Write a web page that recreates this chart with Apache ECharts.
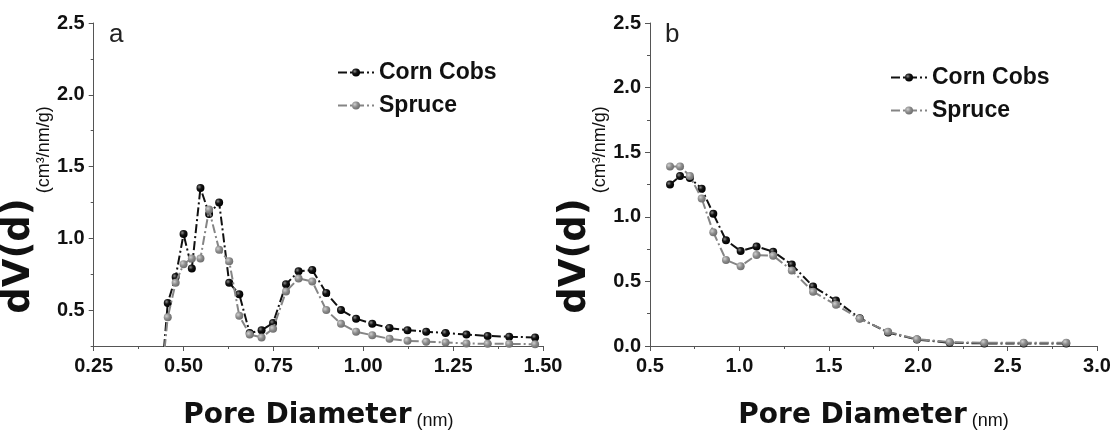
<!DOCTYPE html>
<html>
<head>
<meta charset="utf-8">
<script src="https://cdn.jsdelivr.net/npm/echarts@6/dist/echarts.min.js"></script>
<style>
html,body{margin:0;padding:0;background:#fff;}
#c{width:1117px;height:435px;}
</style>
</head>
<body>
<div id="c"></div>
<script>
// ---- Panel a data (pore diameter in nm, dV(d) in cm3/nm/g) ----
const xA      = [0.438, 0.456, 0.478, 0.500, 0.523, 0.547, 0.571, 0.599, 0.627, 0.655, 0.684, 0.717, 0.749, 0.785, 0.820, 0.858, 0.897, 0.938, 0.980, 1.025, 1.073, 1.123, 1.175, 1.229, 1.287, 1.346, 1.406, 1.478];
const cornA   = [0.00, 0.55, 0.73, 1.03, 0.79, 1.35, 1.17, 1.25, 0.69, 0.61, 0.34, 0.36, 0.41, 0.68, 0.77, 0.78, 0.62, 0.50, 0.44, 0.405, 0.375, 0.36, 0.35, 0.34, 0.33, 0.32, 0.315, 0.31];
const spruceA = [0.00, 0.45, 0.69, 0.82, 0.86, 0.86, 1.20, 0.92, 0.84, 0.46, 0.33, 0.31, 0.37, 0.63, 0.72, 0.70, 0.50, 0.405, 0.35, 0.325, 0.30, 0.286, 0.28, 0.275, 0.268, 0.265, 0.265, 0.262];

// ---- Panel b data ----
const xB      = [0.612, 0.668, 0.723, 0.789, 0.854, 0.925, 1.007, 1.096, 1.189, 1.293, 1.412, 1.540, 1.673, 1.831, 1.993, 2.176, 2.370, 2.590, 2.828];
const cornB   = [1.25, 1.315, 1.30, 1.218, 1.023, 0.818, 0.735, 0.77, 0.73, 0.63, 0.461, 0.352, 0.215, 0.105, 0.05, 0.025, 0.02, 0.02, 0.02];
const spruceB = [1.39, 1.39, 1.315, 1.142, 0.881, 0.666, 0.618, 0.704, 0.699, 0.585, 0.42, 0.319, 0.21, 0.11, 0.053, 0.03, 0.025, 0.025, 0.025];

// ---- tick values ----
const yMajorA = [0.5, 1.0, 1.5, 2.0, 2.5];
const yMinorA = [0.25, 0.75, 1.25, 1.75, 2.25];
const seriesNames = ['Corn Cobs', 'Spruce'];
const panelLetters = ['a', 'b'];

const FONT = 'Liberation Sans, Arial, Helvetica, sans-serif';
const WIDE = 'DejaVu Sans, Verdana, sans-serif';
const AXC = '#555';
const TXT = '#111';

function ball(stops) {
  return new echarts.graphic.RadialGradient(0.35, 0.35, 0.65,
    stops.map(s => ({offset: s[0], color: s[1]})));
}
const blackBall = ball([[0, '#8a8a8a'], [0.45, '#151515'], [1, '#000']]);
const grayBall = ball([[0, '#cfcfcf'], [0.55, '#8c8c8c'], [1, '#707070']]);

const tickLabel = {fontFamily: FONT, fontWeight: 'bold', fontSize: 20, color: TXT};

const xName = '{big|Pore Diameter}{small| (nm)}';
const xNameStyle = {rich: {
  big: {fontFamily: WIDE, fontWeight: 'bold', fontSize: 28, color: TXT, verticalAlign: 'bottom', lineHeight: 32},
  small: {fontFamily: FONT, fontWeight: 'normal', fontSize: 18, color: TXT, verticalAlign: 'bottom', lineHeight: 24}
}};
const yName = '{big|dV(d)}{small| (cm³/nm/g)}{sp| }';
const yNameStyle = {rich: {
  big: {fontFamily: WIDE, fontWeight: 'bold', fontSize: 37, color: TXT, verticalAlign: 'top', lineHeight: 37},
  small: {fontFamily: FONT, fontWeight: 'normal', fontSize: 18, color: TXT, verticalAlign: 'top', lineHeight: 18, padding: [34, 0, 0, 0]},
  sp: {width: 51, fontSize: 18, verticalAlign: 'top'}
}};

function xAxisCfg(grid, min, max, interval, digits) {
  return {
    type: 'value', gridIndex: grid, min: min, max: max, interval: interval,
    axisLine: {show: true, onZero: false, lineStyle: {color: AXC, width: 1}},
    axisTick: {show: true, length: 5, lineStyle: {color: AXC}},
    minorTick: {show: true, splitNumber: 2, length: 3, lineStyle: {color: AXC}},
    splitLine: {show: false},
    axisLabel: Object.assign({margin: 10, formatter: v => v.toFixed(digits)}, tickLabel),
    name: xName, nameLocation: 'middle', nameGap: 52, nameTextStyle: xNameStyle
  };
}

const lineDash = [9, 3, 2, 3];

function mkSeries(name, xs, ys, xi, yi, isBlack) {
  return {
    type: 'line', name: name, xAxisIndex: xi, yAxisIndex: yi,
    data: xs.map((x, i) => [x, ys[i]]),
    symbol: 'circle', symbolSize: 8, showAllSymbol: true, clip: true,
    itemStyle: {color: isBlack ? blackBall : grayBall, borderWidth: 0},
    lineStyle: {color: isBlack ? '#111' : '#858585', width: 2, type: lineDash},
    emphasis: {disabled: true},
    z: isBlack ? 2 : 3
  };
}

const legendBase = {
  orient: 'vertical', itemWidth: 36, itemHeight: 10, itemGap: 10,
  textStyle: {fontFamily: FONT, fontWeight: 'bold', fontSize: 23, color: TXT},
  data: seriesNames, selectedMode: false
};

const option = {
  animation: false,
  backgroundColor: '#fff',
  title: [
    {text: panelLetters[0], left: 104, top: 17, textStyle: {fontFamily: FONT, fontWeight: 'normal', fontSize: 26, color: '#222'}},
    {text: panelLetters[1], left: 660, top: 17, textStyle: {fontFamily: FONT, fontWeight: 'normal', fontSize: 26, color: '#222'}}
  ],
  legend: [
    Object.assign({left: 332, top: 56}, legendBase),
    Object.assign({left: 885, top: 61}, legendBase)
  ],
  grid: [
    {left: 93, right: 574, top: 23, bottom: 83},
    {left: 650, right: 20, top: 23, bottom: 83}
  ],
  xAxis: [
    xAxisCfg(0, 0.25, 1.5, 0.25, 2),
    xAxisCfg(1, 0.5, 3.0, 0.5, 1)
  ],
  yAxis: [
    {
      type: 'value', gridIndex: 0, position: 'left', min: 0.25, max: 2.5,
      axisLine: {show: true, onZero: false, lineStyle: {color: AXC, width: 1}},
      axisTick: {show: true, length: 5, customValues: yMajorA, lineStyle: {color: AXC}},
      splitLine: {show: false},
      axisLabel: Object.assign({margin: 9, customValues: yMajorA, formatter: v => v.toFixed(1)}, tickLabel),
      name: yName, nameLocation: 'middle', nameGap: 49, nameTextStyle: yNameStyle
    },
    {
      type: 'value', gridIndex: 0, position: 'left', min: 0.25, max: 2.5,
      axisLine: {show: false},
      axisTick: {show: true, length: 3, customValues: yMinorA, lineStyle: {color: AXC}},
      splitLine: {show: false},
      axisLabel: {show: false}
    },
    {
      type: 'value', gridIndex: 1, position: 'left', min: 0, max: 2.5, interval: 0.5,
      axisLine: {show: true, onZero: false, lineStyle: {color: AXC, width: 1}},
      axisTick: {show: true, length: 5, lineStyle: {color: AXC}},
      minorTick: {show: true, splitNumber: 2, length: 3, lineStyle: {color: AXC}},
      splitLine: {show: false},
      axisLabel: Object.assign({margin: 9, formatter: v => v.toFixed(1)}, tickLabel),
      name: yName, nameLocation: 'middle', nameGap: 49, nameTextStyle: yNameStyle
    }
  ],
  series: [
    mkSeries(seriesNames[0], xA, cornA, 0, 0, true),
    mkSeries(seriesNames[1], xA, spruceA, 0, 0, false),
    mkSeries(seriesNames[0], xB, cornB, 1, 2, true),
    mkSeries(seriesNames[1], xB, spruceB, 1, 2, false)
  ]
};

const chart = echarts.init(document.getElementById('c'), null, {renderer: 'canvas'});
chart.setOption(option);
</script>
</body>
</html>
